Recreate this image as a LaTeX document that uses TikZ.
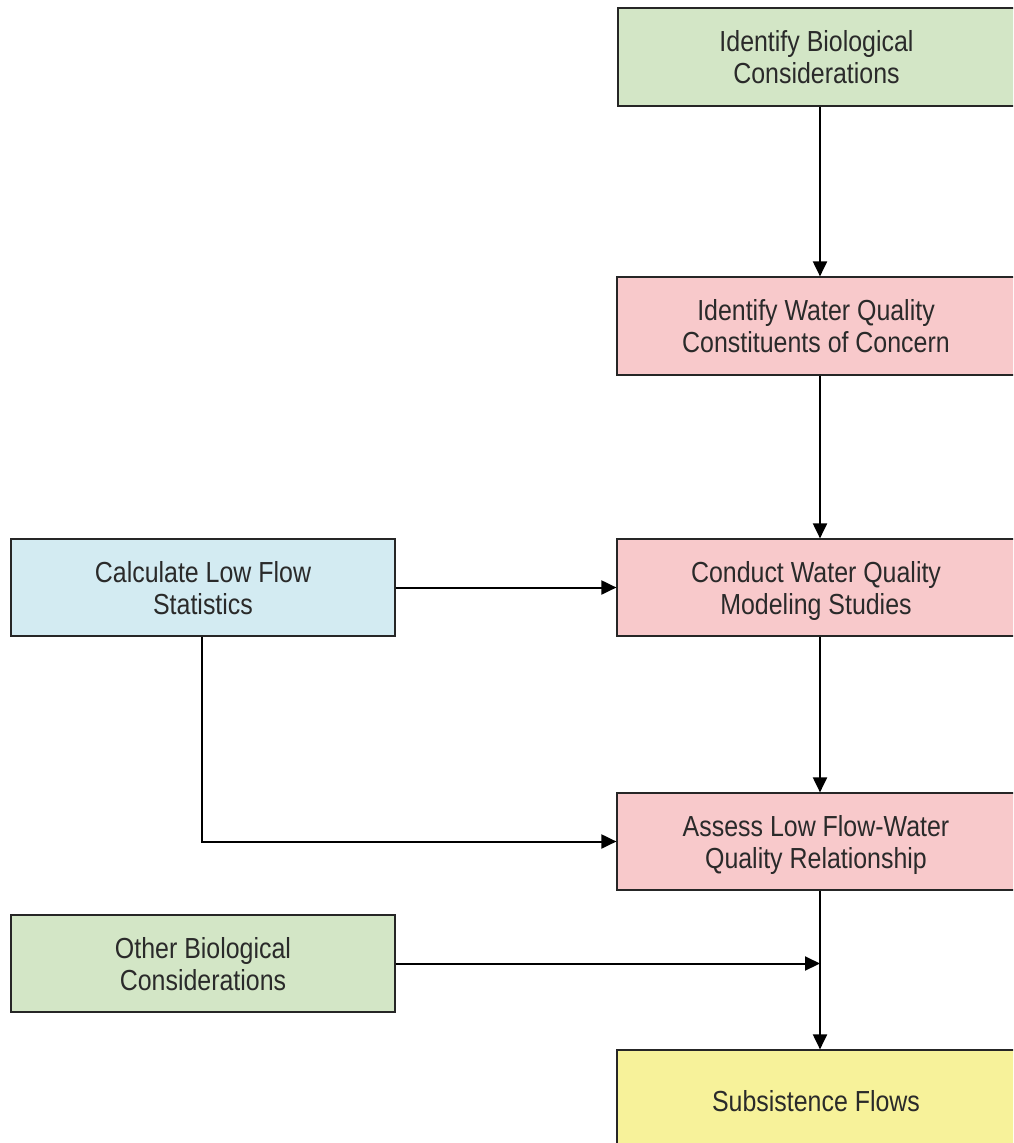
\documentclass[tikz,border=0pt]{standalone}
\usepackage{fontspec}
\setmainfont{Liberation Sans}[FakeStretch=0.86]
\usetikzlibrary{arrows.meta}
\definecolor{bgreen}{HTML}{D3E6C6}
\definecolor{bpink}{HTML}{F8C9CB}
\definecolor{bblue}{HTML}{D3EBF2}
\definecolor{byellow}{HTML}{F7F29A}
\definecolor{txt}{HTML}{2A2A2A}
\tikzset{
  box/.style={draw=black!85, line width=1.2pt, rectangle, align=center, inner sep=0pt,
    font=\fontsize{29}{32}\selectfont, text=txt, text depth=-4pt},
  arr/.style={line width=2pt, -{Triangle[length=15pt,width=14pt]}},
  ln/.style={line width=2pt}
}
\begin{document}
\begin{tikzpicture}[x=1pt,y=-1pt]
\useasboundingbox (0,0) rectangle (1013,1143);
\clip (0,0) rectangle (1013,1143);
\node[box, fill=bgreen, minimum width=397pt, minimum height=98pt] (IBC) at (816.5,57) {Identify Biological\\Considerations};
\node[box, fill=bpink, minimum width=398pt, minimum height=98pt] (IWQ) at (816,326) {Identify Water Quality\\Constituents of Concern};
\node[box, fill=bpink, minimum width=398pt, minimum height=97pt] (CWQ) at (816,587.5) {Conduct Water Quality\\Modeling Studies};
\node[box, fill=bpink, minimum width=398pt, minimum height=97pt] (ALF) at (816,841.5) {Assess Low Flow-Water\\Quality Relationship};
\node[box, fill=byellow, minimum width=398pt, minimum height=102pt] (SF) at (816,1101) {Subsistence Flows};
\node[box, fill=bblue, minimum width=384pt, minimum height=97pt] (CLF) at (203,587.5) {Calculate Low Flow\\Statistics};
\node[box, fill=bgreen, minimum width=384pt, minimum height=97pt] (OBC) at (203,963.5) {Other Biological\\Considerations};
\coordinate (vl) at (820,0);
\coordinate (cl) at (202,0);
\coordinate (join) at (820,963.5);
\draw[arr] (IBC.south -| vl) -- (IWQ.north -| vl);
\draw[arr] (IWQ.south -| vl) -- (CWQ.north -| vl);
\draw[arr] (CWQ.south -| vl) -- (ALF.north -| vl);
\draw[arr] (ALF.south -| vl) -- (SF.north -| vl);
\draw[arr] (CLF.east) -- (CWQ.west);
\draw[arr] (CLF.south -| cl) |- (ALF.west);
\draw[arr] (OBC.east) -- (join);
\end{tikzpicture}
\end{document}
